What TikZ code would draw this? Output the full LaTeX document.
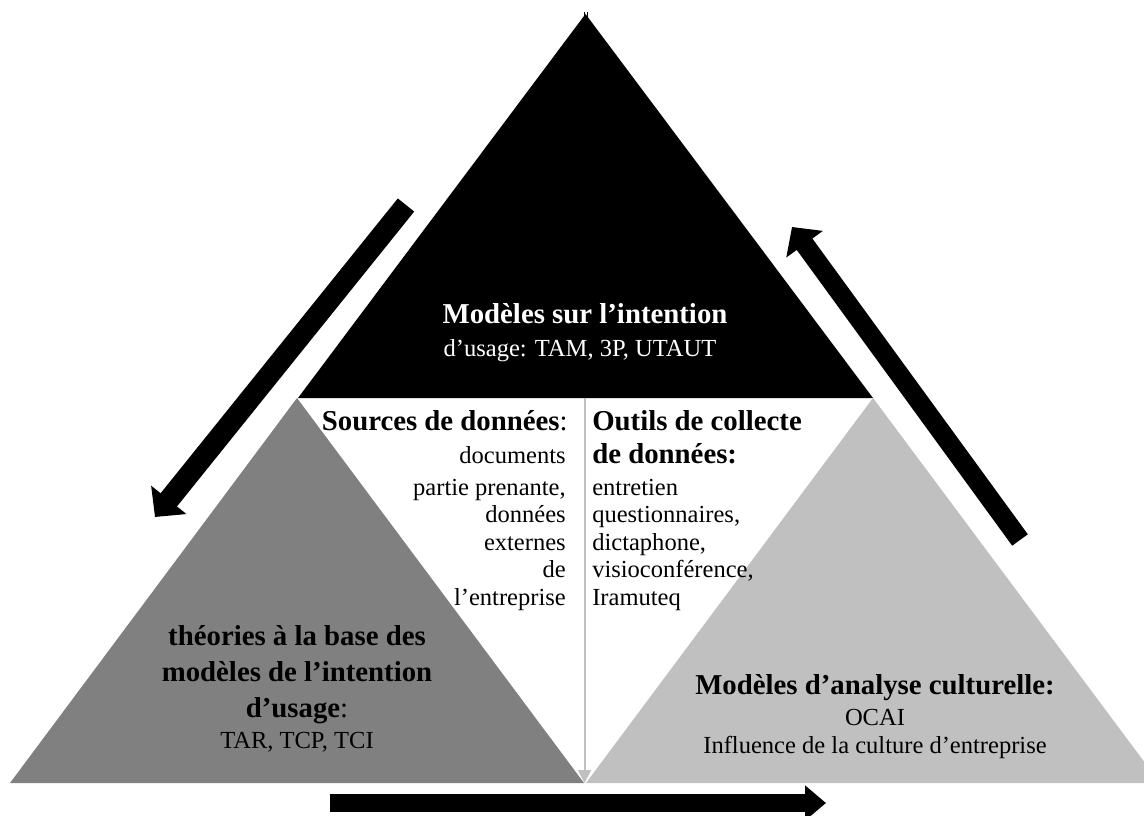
\documentclass[tikz,border=0pt]{standalone}
\usepackage{fontspec}
\setmainfont{Liberation Serif}
\usetikzlibrary{arrows.meta}
\definecolor{gdark}{HTML}{808080}
\definecolor{glight}{HTML}{C0C0C0}
\begin{document}
\begin{tikzpicture}[x=0.75pt,y=-0.75pt,
  bold/.style={font=\fontsize{21.6pt}{26pt}\selectfont\bfseries, inner sep=0pt},
  reg/.style={font=\fontsize{18.4pt}{22pt}\selectfont, inner sep=0pt},
  bigarrow/.style={black, line width=#1},
]
\clip (0,0) rectangle (1144,816);
\fill[white] (0,0) rectangle (1144,816);
% triangles
\fill[black] (585.5,14) -- (873,398) -- (298,398) -- cycle;
\fill[gdark] (297,398) -- (584,783) -- (10,783) -- cycle;
\fill[glight] (873,398) -- (1160,783) -- (586,783) -- cycle;
\draw[black, line width=0.6pt] (584,12) -- (584,17) (587,12) -- (587,17);
% thin grey arrow
\coordinate (gtop) at (584.5,398);
\coordinate (gbot) at (584.5,783);
\draw[glight, line width=1.5pt, -{Triangle[length=9.75pt,width=9.75pt]}] (gtop) -- (gbot);
% big arrows
\coordinate (a1s) at (406,205);
\coordinate (a1e) at (155,517);
\draw[bigarrow=15.75pt, -{Triangle[length=16.5pt,width=33pt]}] (a1s) -- (a1e);
\coordinate (a2s) at (1020,540);
\coordinate (a2e) at (792,227);
\draw[bigarrow=14.5pt, -{Triangle[length=16pt,width=33pt]}] (a2s) -- (a2e);
\coordinate (a3s) at (330,803);
\coordinate (a3e) at (826,803);
\draw[bigarrow=13.1pt, -{Triangle[length=15.75pt,width=25.5pt]}] (a3s) -- (a3e);
% top triangle text
\node[bold, white, anchor=base] (top1) at (585,323) {Modèles sur l’intention};
\node[reg, white, anchor=base] (top2) at (580,356) {d’usage: TAM, 3P, UTAUT};
% left column
\node[reg, anchor=base east] (l1) at (568,430) {{\fontsize{21.6pt}{26pt}\selectfont\bfseries Sources de données}{\fontsize{21.6pt}{26pt}\selectfont :}};
\node[reg, anchor=base east] (l2) at (566,463) {documents};
\node[reg, anchor=base east] (l3) at (566,495) {partie prenante,};
\node[reg, anchor=base east] (l4) at (566,522) {données};
\node[reg, anchor=base east] (l5) at (566,550) {externes};
\node[reg, anchor=base east] (l6) at (566,577) {de};
\node[reg, anchor=base east] (l7) at (566,605) {l’entreprise};
% right column
\node[bold, anchor=base west] (r1) at (592,430) {Outils de collecte};
\node[bold, anchor=base west] (r2) at (592,463) {de données:};
\node[reg, anchor=base west] (r3) at (592,495) {entretien};
\node[reg, anchor=base west] (r4) at (592,522) {questionnaires,};
\node[reg, anchor=base west] (r5) at (592,550) {dictaphone,};
\node[reg, anchor=base west] (r6) at (592,577) {visioconférence,};
\node[reg, anchor=base west] (r7) at (592,605) {Iramuteq};
% left grey triangle text
\node[bold, anchor=base] (g1) at (297,645) {théories à la base des};
\node[bold, anchor=base] (g2) at (297,681) {modèles de l’intention};
\node[bold, anchor=base] (g3) at (297,717) {d’usage{\mdseries :}};
\node[reg, anchor=base] (g4) at (297,748) {TAR, TCP, TCI};
% right grey triangle text
\node[bold, anchor=base] (h1) at (875,694) {Modèles d’analyse culturelle:};
\node[reg, anchor=base] (h2) at (875,725) {OCAI};
\node[reg, anchor=base] (h3) at (875,753) {Influence de la culture d’entreprise};
\end{tikzpicture}
\end{document}
